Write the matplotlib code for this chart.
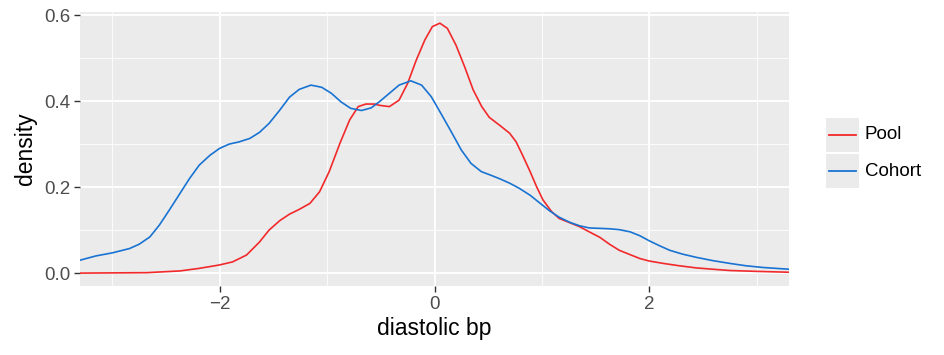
import numpy as np
import matplotlib
matplotlib.use("Agg")
import matplotlib.pyplot as plt
from matplotlib.patches import Rectangle
from matplotlib.lines import Line2D

plt.rcParams['font.family'] = ['Liberation Sans', 'DejaVu Sans']

# density curves
pool_x = [-3.30, -2.68, -2.37, -2.19, -2.00, -1.88, -1.75, -1.63, -1.54, -1.44,
          -1.35, -1.26, -1.16, -1.07, -0.98, -0.88, -0.79, -0.71, -0.64, -0.56,
          -0.51, -0.42, -0.33, -0.25, -0.17, -0.09, -0.02, 0.05, 0.12, 0.20,
          0.28, 0.36, 0.44, 0.51, 0.61, 0.70, 0.76, 0.82, 0.89, 0.95,
          1.01, 1.09, 1.16, 1.26, 1.35, 1.44, 1.54, 1.63, 1.72, 1.82,
          1.91, 2.00, 2.13, 2.28, 2.44, 2.59, 2.75, 3.00, 3.30]
pool_y = [0.000, 0.001, 0.005, 0.011, 0.019, 0.026, 0.042, 0.072, 0.100, 0.122,
          0.137, 0.148, 0.162, 0.189, 0.236, 0.302, 0.356, 0.387, 0.393, 0.393,
          0.390, 0.387, 0.402, 0.441, 0.495, 0.542, 0.573, 0.581, 0.569, 0.530,
          0.480, 0.426, 0.387, 0.362, 0.343, 0.325, 0.305, 0.274, 0.236, 0.201,
          0.170, 0.143, 0.127, 0.117, 0.108, 0.096, 0.083, 0.067, 0.053, 0.043,
          0.034, 0.028, 0.0225, 0.017, 0.012, 0.009, 0.006, 0.004, 0.002]

cohort_x = [-3.30, -3.15, -3.00, -2.84, -2.75, -2.65, -2.56, -2.47, -2.37, -2.28,
            -2.19, -2.09, -2.00, -1.91, -1.82, -1.72, -1.63, -1.54, -1.44, -1.35,
            -1.26, -1.15, -1.05, -0.96, -0.87, -0.78, -0.68, -0.59, -0.51, -0.42,
            -0.33, -0.22, -0.12, -0.03, 0.06, 0.155, 0.25, 0.34, 0.435, 0.53,
            0.61, 0.70, 0.79, 0.89, 0.98, 1.07, 1.16, 1.26, 1.35, 1.44,
            1.54, 1.63, 1.72, 1.82, 1.91, 2.00, 2.10, 2.19, 2.31, 2.44,
            2.59, 2.75, 2.90, 3.06, 3.30]
cohort_y = [0.030, 0.040, 0.047, 0.057, 0.067, 0.084, 0.112, 0.146, 0.185, 0.220,
            0.251, 0.274, 0.290, 0.300, 0.305, 0.313, 0.327, 0.348, 0.379, 0.409,
            0.427, 0.437, 0.432, 0.418, 0.398, 0.383, 0.378, 0.384, 0.399, 0.418,
            0.437, 0.447, 0.437, 0.410, 0.371, 0.329, 0.286, 0.255, 0.236, 0.227,
            0.219, 0.209, 0.197, 0.181, 0.163, 0.145, 0.130, 0.118, 0.110, 0.105,
            0.104, 0.103, 0.101, 0.096, 0.087, 0.075, 0.063, 0.053, 0.044, 0.0365,
            0.029, 0.0225, 0.017, 0.013, 0.009]

labels = ["Pool", "Cohort"]
colors = ["#F2292B", "#1973D2"]

fig = plt.figure(figsize=(9.44, 3.55), dpi=100)
ax = fig.add_axes([80 / 944, 1 - 286 / 355, 709 / 944, 274 / 355])
ax.set_facecolor("#EBEBEB")
for s in ax.spines.values():
    s.set_visible(False)

ax.plot(pool_x, pool_y, color=colors[0], lw=1.2, solid_joinstyle="round")
ax.plot(cohort_x, cohort_y, color=colors[1], lw=1.2, solid_joinstyle="round")

ax.set_xlim(-3.3, 3.3)
ax.set_ylim(-0.03, 0.607)
ax.set_xticks([-2, 0, 2])
ax.set_xticklabels(["\u22122", "0", "2"])
ax.set_yticks([0.0, 0.2, 0.4, 0.6])
ax.set_yticklabels(["0.0", "0.2", "0.4", "0.6"])
ax.set_xticks([-3, -1, 1, 3], minor=True)
ax.set_yticks([0.1, 0.3, 0.5], minor=True)
ax.grid(which="major", color="white", lw=1.3)
ax.grid(which="minor", color="white", lw=0.6)
ax.set_axisbelow(True)
ax.tick_params(which="major", length=4, width=1, color="#333333",
               labelcolor="#4D4D4D", labelsize=13.5, pad=3)
ax.tick_params(which="minor", length=0)
ax.set_xlabel("diastolic bp", fontsize=16.5, labelpad=3)
ax.set_ylabel("density", fontsize=16.5, labelpad=5)

# legend drawn in figure pixels, ggplot style
W, H = 944, 355
for i, (lab, c) in enumerate(zip(labels, colors)):
    top = 118 + i * 36
    fig.add_artist(Rectangle((826 / W, 1 - (top + 34) / H), 33 / W, 34 / H,
                             transform=fig.transFigure, facecolor="#EBEBEB",
                             edgecolor="none"))
    yc = 1 - (top + 17) / H
    fig.add_artist(Line2D([829 / W, 856 / W], [yc, yc], transform=fig.transFigure,
                          color=c, lw=1.3))
    fig.text(865 / W, yc, lab, fontsize=13.5, va="center", ha="left", color="black")

fig.savefig("out.png", dpi=100)
